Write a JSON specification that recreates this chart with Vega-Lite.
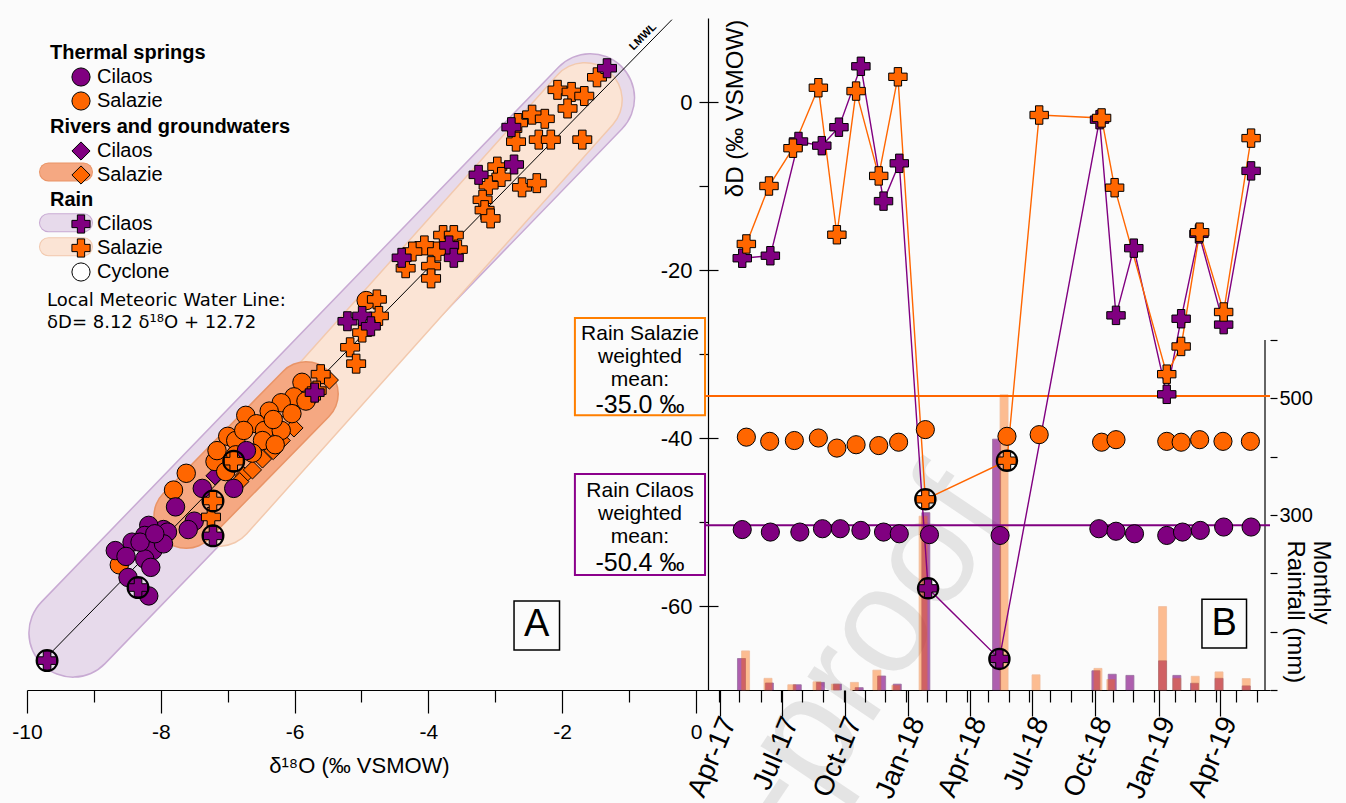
{
"$schema":"https://vega.github.io/schema/vega-lite/v6.json",
"width":1243,"height":672,
"autosize":{"type":"none"},
"padding":{"left":27,"top":18,"right":76,"bottom":113},
"background":"#fbfbfb",
"config":{
 "font":"Liberation Sans",
 "view":{"stroke":null},
 "text":{"color":"#000","font":"Liberation Sans"},
 "axis":{"labelFont":"Liberation Sans","titleFont":"Liberation Sans","labelColor":"#000","titleColor":"#000","domainColor":"#000","tickColor":"#000","domainWidth":1.2,"tickWidth":1.2,"grid":false,"titleFontWeight":"normal","labelFlush":false,"labelOverlap":false},
 "legend":{"titleFont":"Liberation Sans","titleFontSize":20,"titleFontWeight":"bold","titleColor":"#000","labelFont":"Liberation Sans","labelFontSize":20,"labelColor":"#000","symbolSize":330,"symbolOffset":21,"labelOffset":6,"rowPadding":0,"titlePadding":4,"padding":0,"symbolStrokeColor":"#000","symbolStrokeWidth":1,"titleLimit":400}
},
"datasets":{
 "thermalA":[
  {"site":"Salazie","d18O":-4.93,"dD":-23.64},{"site":"Salazie","d18O":-5.89,"dD":-33.37},{"site":"Salazie","d18O":-6.01,"dD":-35.1},{"site":"Salazie","d18O":-5.83,"dD":-35.6},{"site":"Salazie","d18O":-6.2,"dD":-35.8},{"site":"Salazie","d18O":-6.38,"dD":-36.8},{"site":"Salazie","d18O":-6.04,"dD":-37.1},{"site":"Salazie","d18O":-6.73,"dD":-37.3},{"site":"Salazie","d18O":-6.57,"dD":-38.3},{"site":"Salazie","d18O":-6.45,"dD":-39.1},{"site":"Salazie","d18O":-6.2,"dD":-39.1},{"site":"Salazie","d18O":-7.0,"dD":-39.8},{"site":"Salazie","d18O":-6.88,"dD":-40.3},{"site":"Salazie","d18O":-6.48,"dD":-40.3},{"site":"Salazie","d18O":-6.29,"dD":-40.8},{"site":"Salazie","d18O":-6.63,"dD":-41.8},{"site":"Salazie","d18O":-6.88,"dD":-42.0},{"site":"Salazie","d18O":-7.19,"dD":-42.8},{"site":"Salazie","d18O":-7.03,"dD":-44.0},{"site":"Salazie","d18O":-7.62,"dD":-44.2},{"site":"Salazie","d18O":-7.81,"dD":-46.2},{"site":"Salazie","d18O":-8.62,"dD":-55.1},{"site":"Salazie","d18O":-6.32,"dD":-37.8},{"site":"Salazie","d18O":-6.76,"dD":-39.1},{"site":"Salazie","d18O":-7.16,"dD":-41.5},
  {"site":"Cilaos","d18O":-6.72,"dD":-41.5},{"site":"Cilaos","d18O":-7.38,"dD":-46.0},{"site":"Cilaos","d18O":-6.91,"dD":-46.0},{"site":"Cilaos","d18O":-7.78,"dD":-48.2},{"site":"Cilaos","d18O":-7.5,"dD":-49.9},{"site":"Cilaos","d18O":-7.59,"dD":-50.9},{"site":"Cilaos","d18O":-7.96,"dD":-50.9},{"site":"Cilaos","d18O":-8.18,"dD":-50.4},{"site":"Cilaos","d18O":-8.24,"dD":-51.6},{"site":"Cilaos","d18O":-8.06,"dD":-51.9},{"site":"Cilaos","d18O":-7.9,"dD":-51.2},{"site":"Cilaos","d18O":-8.43,"dD":-52.4},{"site":"Cilaos","d18O":-8.68,"dD":-53.4},{"site":"Cilaos","d18O":-8.52,"dD":-54.1},{"site":"Cilaos","d18O":-8.12,"dD":-53.4},{"site":"Cilaos","d18O":-7.96,"dD":-52.6},{"site":"Cilaos","d18O":-8.24,"dD":-54.4},{"site":"Cilaos","d18O":-8.15,"dD":-55.4},{"site":"Cilaos","d18O":-8.49,"dD":-56.6},{"site":"Cilaos","d18O":-8.18,"dD":-58.8},{"site":"Cilaos","d18O":-8.31,"dD":-52.4},{"site":"Cilaos","d18O":-8.09,"dD":-51.4}
 ],
 "riversA":[
  {"site":"Salazie","d18O":-5.48,"dD":-33.1},{"site":"Salazie","d18O":-6.01,"dD":-38.8},{"site":"Salazie","d18O":-6.2,"dD":-40.3},{"site":"Salazie","d18O":-6.48,"dD":-42.5},{"site":"Salazie","d18O":-6.76,"dD":-44.5},{"site":"Salazie","d18O":-6.82,"dD":-45.2},{"site":"Salazie","d18O":-5.76,"dD":-35.3},{"site":"Salazie","d18O":-6.32,"dD":-41.5},{"site":"Salazie","d18O":-6.63,"dD":-43.8},
  {"site":"Cilaos","d18O":-7.19,"dD":-44.5}
 ],
 "rainA":[
  {"site":"Salazie","d18O":-1.48,"dD":2.94},{"site":"Salazie","d18O":-2.07,"dD":1.45},{"site":"Salazie","d18O":-1.86,"dD":1.2},{"site":"Salazie","d18O":-1.67,"dD":0.71},{"site":"Salazie","d18O":-1.92,"dD":-0.77},{"site":"Salazie","d18O":-2.45,"dD":-1.51},{"site":"Salazie","d18O":-2.26,"dD":-2.0},{"site":"Salazie","d18O":-2.66,"dD":-2.5},{"site":"Salazie","d18O":-2.69,"dD":-4.72},{"site":"Salazie","d18O":-2.35,"dD":-4.48},{"site":"Salazie","d18O":-2.17,"dD":-4.48},{"site":"Salazie","d18O":-1.7,"dD":-4.48},{"site":"Salazie","d18O":-2.97,"dD":-7.69},{"site":"Salazie","d18O":-2.91,"dD":-8.92},{"site":"Salazie","d18O":-3.1,"dD":-9.91},{"site":"Salazie","d18O":-2.6,"dD":-10.16},{"site":"Salazie","d18O":-2.38,"dD":-9.66},{"site":"Salazie","d18O":-3.19,"dD":-11.64},{"site":"Salazie","d18O":-3.16,"dD":-12.87},{"site":"Salazie","d18O":-3.07,"dD":-13.86},{"site":"Salazie","d18O":-3.78,"dD":-15.84},{"site":"Salazie","d18O":-3.62,"dD":-15.84},{"site":"Salazie","d18O":-4.06,"dD":-17.07},{"site":"Salazie","d18O":-4.24,"dD":-17.8},{"site":"Salazie","d18O":-3.87,"dD":-17.8},{"site":"Salazie","d18O":-3.56,"dD":-17.57},{"site":"Salazie","d18O":-3.96,"dD":-19.54},{"site":"Salazie","d18O":-4.34,"dD":-19.79},{"site":"Salazie","d18O":-3.96,"dD":-21.0},{"site":"Salazie","d18O":-4.77,"dD":-23.5},{"site":"Salazie","d18O":-4.74,"dD":-25.47},{"site":"Salazie","d18O":-4.99,"dD":-27.45},{"site":"Salazie","d18O":-5.17,"dD":-29.2},{"site":"Salazie","d18O":-5.08,"dD":-31.15},{"site":"Salazie","d18O":-5.61,"dD":-32.4},{"site":"Salazie","d18O":-5.67,"dD":-34.36},{"site":"Salazie","d18O":-7.25,"dD":-49.4},{"site":"Salazie","d18O":-6.91,"dD":-42.76,"cyclone":true},{"site":"Salazie","d18O":-7.22,"dD":-47.5,"cyclone":true},
  {"site":"Cilaos","d18O":-1.33,"dD":4.02},{"site":"Cilaos","d18O":-2.76,"dD":-2.99},{"site":"Cilaos","d18O":-2.72,"dD":-7.44},{"site":"Cilaos","d18O":-3.25,"dD":-8.67},{"site":"Cilaos","d18O":-3.69,"dD":-17.07},{"site":"Cilaos","d18O":-3.62,"dD":-18.55},{"site":"Cilaos","d18O":-4.4,"dD":-18.55},{"site":"Cilaos","d18O":-5.21,"dD":-26.1},{"site":"Cilaos","d18O":-4.99,"dD":-25.47},{"site":"Cilaos","d18O":-4.86,"dD":-26.7},{"site":"Cilaos","d18O":-5.7,"dD":-34.6},{"site":"Cilaos","d18O":-7.22,"dD":-51.65,"cyclone":true},{"site":"Cilaos","d18O":-8.34,"dD":-57.8,"cyclone":true},{"site":"Cilaos","d18O":-9.7,"dD":-66.5,"cyclone":true}
 ],
 "rainB":[
  {"date":"2017-05-04","site":"Cilaos","dD":-18.6,"rain":54},{"date":"2017-06-14","site":"Cilaos","dD":-18.3,"rain":12},{"date":"2017-07-25","site":"Cilaos","dD":-4.7,"rain":9},{"date":"2017-08-28","site":"Cilaos","dD":-5.2,"rain":13},{"date":"2017-09-22","site":"Cilaos","dD":-3.0,"rain":10},{"date":"2017-10-24","site":"Cilaos","dD":4.25,"rain":4},{"date":"2017-11-26","site":"Cilaos","dD":-11.8,"rain":24},{"date":"2017-12-19","site":"Cilaos","dD":-7.3,"rain":10},{"date":"2018-01-30","site":"Cilaos","dD":-57.9,"rain":304,"cyclone":true},{"date":"2018-05-14","site":"Cilaos","dD":-66.3,"rain":430,"cyclone":true},{"date":"2018-10-07","site":"Cilaos","dD":-2.1,"rain":33},{"date":"2018-10-31","site":"Cilaos","dD":-25.4,"rain":27},{"date":"2018-11-26","site":"Cilaos","dD":-17.4,"rain":25},{"date":"2019-01-13","site":"Cilaos","dD":-34.8,"rain":50},{"date":"2019-02-03","site":"Cilaos","dD":-25.8,"rain":25},{"date":"2019-03-01","site":"Cilaos","dD":-15.7,"rain":11.5},{"date":"2019-04-06","site":"Cilaos","dD":-26.5,"rain":20},{"date":"2019-05-16","site":"Cilaos","dD":-8.2,"rain":7},
  {"date":"2017-05-10","site":"Salazie","dD":-16.9,"rain":67},{"date":"2017-06-12","site":"Salazie","dD":-10.0,"rain":20},{"date":"2017-07-17","site":"Salazie","dD":-5.5,"rain":9},{"date":"2017-08-23","site":"Salazie","dD":1.7,"rain":14},{"date":"2017-09-19","site":"Salazie","dD":-15.8,"rain":10},{"date":"2017-10-17","site":"Salazie","dD":1.3,"rain":13},{"date":"2017-11-19","site":"Salazie","dD":-8.8,"rain":34},{"date":"2017-12-17","site":"Salazie","dD":3.0,"rain":8},{"date":"2018-01-26","site":"Salazie","dD":-47.3,"rain":298,"cyclone":true},{"date":"2018-05-25","site":"Salazie","dD":-42.7,"rain":506,"cyclone":true},{"date":"2018-07-11","site":"Salazie","dD":-1.55,"rain":26},{"date":"2018-10-10","site":"Salazie","dD":-1.9,"rain":37},{"date":"2018-10-29","site":"Salazie","dD":-10.2,"rain":18},{"date":"2019-01-13","site":"Salazie","dD":-32.4,"rain":143},{"date":"2019-02-03","site":"Salazie","dD":-29.1,"rain":20},{"date":"2019-03-02","site":"Salazie","dD":-15.5,"rain":23.5},{"date":"2019-04-06","site":"Salazie","dD":-25.0,"rain":31},{"date":"2019-05-16","site":"Salazie","dD":-4.3,"rain":19.5}
 ],
 "thermalB":[
  {"date":"2017-05-10","site":"Salazie","dD":-39.9},{"date":"2017-06-13","site":"Salazie","dD":-40.4},{"date":"2017-07-19","site":"Salazie","dD":-40.3},{"date":"2017-08-23","site":"Salazie","dD":-40.0},{"date":"2017-09-19","site":"Salazie","dD":-41.2},{"date":"2017-10-17","site":"Salazie","dD":-40.8},{"date":"2017-11-19","site":"Salazie","dD":-40.9},{"date":"2017-12-18","site":"Salazie","dD":-40.5},{"date":"2018-01-26","site":"Salazie","dD":-39.0},{"date":"2018-05-25","site":"Salazie","dD":-39.8},{"date":"2018-07-11","site":"Salazie","dD":-39.6},{"date":"2018-10-10","site":"Salazie","dD":-40.5},{"date":"2018-10-31","site":"Salazie","dD":-40.2},{"date":"2019-01-13","site":"Salazie","dD":-40.4},{"date":"2019-02-03","site":"Salazie","dD":-40.5},{"date":"2019-03-02","site":"Salazie","dD":-40.2},{"date":"2019-04-05","site":"Salazie","dD":-40.4},{"date":"2019-05-15","site":"Salazie","dD":-40.4},
  {"date":"2017-05-04","site":"Cilaos","dD":-50.9},{"date":"2017-06-14","site":"Cilaos","dD":-51.2},{"date":"2017-07-27","site":"Cilaos","dD":-51.2},{"date":"2017-08-29","site":"Cilaos","dD":-50.8},{"date":"2017-09-24","site":"Cilaos","dD":-50.8},{"date":"2017-10-24","site":"Cilaos","dD":-51.0},{"date":"2017-11-26","site":"Cilaos","dD":-51.2},{"date":"2017-12-19","site":"Cilaos","dD":-51.4},{"date":"2018-02-01","site":"Cilaos","dD":-51.5},{"date":"2018-05-15","site":"Cilaos","dD":-51.6},{"date":"2018-10-06","site":"Cilaos","dD":-50.8},{"date":"2018-10-31","site":"Cilaos","dD":-51.1},{"date":"2018-11-27","site":"Cilaos","dD":-51.4},{"date":"2019-01-13","site":"Cilaos","dD":-51.6},{"date":"2019-02-05","site":"Cilaos","dD":-51.2},{"date":"2019-03-03","site":"Cilaos","dD":-51.0},{"date":"2019-04-06","site":"Cilaos","dD":-50.6},{"date":"2019-05-16","site":"Cilaos","dD":-50.6}
 ],
 "meanB":[{"site":"Salazie","mean":-35.0},{"site":"Cilaos","mean":-50.4}]
},
"layer":[
 {
  "layer":[
   {
    "layer":[
     {"data":{"values":[{}]},"mark":{"type":"rule","strokeWidth":90,"strokeCap":"round","color":"#c8aad3"},
      "encoding":{"x":{"datum":-9.31,"type":"quantitative","scale":{"domain":[-10,8.58],"nice":false,"zero":false},"axis":{"orient":"bottom","values":[-9,-7,-5,-3,-1],"tickSize":12,"labels":false,"domain":false,"title":null}},
       "y":{"datum":-63.2,"type":"quantitative","scale":{"domain":[-70,10],"nice":false,"zero":false},"axis":null},"x2":{"datum":-1.58},"y2":{"datum":0.48}}},
     {"data":{"values":[{}]},"mark":{"type":"rule","strokeWidth":87,"strokeCap":"round","color":"#e7daeb"},
      "encoding":{"x":{"datum":-9.31,"type":"quantitative"},"y":{"datum":-63.2,"type":"quantitative","axis":null},"x2":{"datum":-1.58},"y2":{"datum":0.48}}},
     {"data":{"values":[{}]},"mark":{"type":"rule","strokeWidth":76,"strokeCap":"round","color":"#f2c9ae"},
      "encoding":{"x":{"datum":-7.13,"type":"quantitative"},"y":{"datum":-48.45,"type":"quantitative","axis":null},"x2":{"datum":-1.66},"y2":{"datum":0.24}}},
     {"data":{"values":[{}]},"mark":{"type":"rule","strokeWidth":73,"strokeCap":"round","color":"#fbe4d5"},
      "encoding":{"x":{"datum":-7.13,"type":"quantitative"},"y":{"datum":-48.45,"type":"quantitative","axis":null},"x2":{"datum":-1.66},"y2":{"datum":0.24}}},
     {"data":{"values":[{}]},"mark":{"type":"rule","strokeWidth":66,"strokeCap":"round","color":"#e99467"},
      "encoding":{"x":{"datum":-7.62,"type":"quantitative"},"y":{"datum":-49.3,"type":"quantitative","axis":null},"x2":{"datum":-5.83},"y2":{"datum":-34.76}}},
     {"data":{"values":[{}]},"mark":{"type":"rule","strokeWidth":63,"strokeCap":"round","color":"#f5a882"},
      "encoding":{"x":{"datum":-7.62,"type":"quantitative"},"y":{"datum":-49.3,"type":"quantitative","axis":null},"x2":{"datum":-5.83},"y2":{"datum":-34.76}}},
     {"data":{"values":[{}]},"mark":{"type":"rule","strokeWidth":19,"strokeCap":"round","color":"#e99467"},
      "encoding":{"x":{"datum":-9.679,"type":"quantitative"},"y":{"datum":-8.33,"type":"quantitative","axis":null},"x2":{"datum":-9.155},"y2":{"datum":-8.33}}},
     {"data":{"values":[{}]},"mark":{"type":"rule","strokeWidth":17,"strokeCap":"round","color":"#f5a882"},
      "encoding":{"x":{"datum":-9.679,"type":"quantitative"},"y":{"datum":-8.33,"type":"quantitative","axis":null},"x2":{"datum":-9.155},"y2":{"datum":-8.33}}},
     {"data":{"values":[{}]},"mark":{"type":"rule","strokeWidth":19,"strokeCap":"round","color":"#c8aad3"},
      "encoding":{"x":{"datum":-9.679,"type":"quantitative"},"y":{"datum":-14.37,"type":"quantitative","axis":null},"x2":{"datum":-9.155},"y2":{"datum":-14.37}}},
     {"data":{"values":[{}]},"mark":{"type":"rule","strokeWidth":17,"strokeCap":"round","color":"#e7daeb"},
      "encoding":{"x":{"datum":-9.679,"type":"quantitative"},"y":{"datum":-14.37,"type":"quantitative","axis":null},"x2":{"datum":-9.155},"y2":{"datum":-14.37}}},
     {"data":{"values":[{}]},"mark":{"type":"rule","strokeWidth":19,"strokeCap":"round","color":"#f2c9ae"},
      "encoding":{"x":{"datum":-9.679,"type":"quantitative"},"y":{"datum":-17.23,"type":"quantitative","axis":null},"x2":{"datum":-9.155},"y2":{"datum":-17.23}}},
     {"data":{"values":[{}]},"mark":{"type":"rule","strokeWidth":17,"strokeCap":"round","color":"#fbe4d5"},
      "encoding":{"x":{"datum":-9.679,"type":"quantitative"},"y":{"datum":-17.23,"type":"quantitative","axis":null},"x2":{"datum":-9.155},"y2":{"datum":-17.23}}}
    ]
   },
   {
    "layer":[
     {"data":{"values":[{}]},"mark":{"type":"text","text":"Journal Pre-proof","fontSize":150,"angle":304,"align":"right","baseline":"alphabetic","color":"#e4e4e4"},
      "encoding":{"x":{"datum":4.724,"type":"quantitative","scale":{"domain":[-10,8.58],"nice":false,"zero":false}},"y":{"datum":-49.17,"type":"quantitative","scale":{"domain":[-70,10],"nice":false,"zero":false},"axis":null}}},
     {"data":{"values":[{}]},"mark":{"type":"rule","strokeWidth":1,"color":"#000"},
      "encoding":{"x":{"datum":-9.7,"type":"quantitative","scale":{"domain":[-10,8.58],"nice":false,"zero":false},"axis":{"orient":"bottom","values":[-10,-8,-6,-4,-2,0],"tickSize":23,"labelFontSize":21,"labelPadding":8,"labelExpr":"'' + datum.value","domain":true,"title":"δ¹⁸O (‰ VSMOW)","titleFontSize":22,"titleX":332,"titleY":75,"titleAlign":"center","titleBaseline":"middle"}},
       "y":{"datum":-66.04,"type":"quantitative","scale":{"domain":[-70,10],"nice":false,"zero":false},"axis":null},"x2":{"datum":-0.36},"y2":{"datum":9.8}}},
     {"data":{"name":"riversA"},"mark":{"type":"point","shape":"diamond","filled":true,"size":330,"stroke":"#000","strokeWidth":1,"opacity":1},
      "encoding":{"x":{"field":"d18O","type":"quantitative"},"y":{"field":"dD","type":"quantitative","axis":null},
       "color":{"field":"site","type":"nominal","scale":{"domain":["Cilaos","Salazie"],"range":["#800080","#ff6600"]},"legend":{"title":"Rivers and groundwaters","orient":"none","legendX":23,"legendY":99,"symbolType":"diamond"}}}},
     {"data":{"name":"thermalA"},"mark":{"type":"point","shape":"circle","filled":true,"size":340,"stroke":"#000","strokeWidth":1,"opacity":1},
      "encoding":{"x":{"field":"d18O","type":"quantitative"},"y":{"field":"dD","type":"quantitative","axis":null},
       "color":{"field":"site","type":"nominal","scale":{"domain":["Cilaos","Salazie"],"range":["#800080","#ff6600"]},"legend":{"title":"Thermal springs","orient":"none","legendX":23,"legendY":25,"symbolType":"circle"}}}},
     {"data":{"name":"rainA"},"mark":{"type":"point","filled":true,"size":360,"stroke":"#000","strokeWidth":1,"opacity":1},
      "encoding":{"x":{"field":"d18O","type":"quantitative"},"y":{"field":"dD","type":"quantitative","axis":null},
       "color":{"field":"site","type":"nominal","scale":{"domain":["Cilaos","Salazie","Cyclone"],"range":["#800080","#ff6600","#ffffff"]},"legend":{"title":"Rain","orient":"none","legendX":23,"legendY":172}},
       "shape":{"field":"site","type":"nominal","scale":{"domain":["Cilaos","Salazie","Cyclone"],"range":["cross","cross","circle"]},"legend":{"title":"Rain","orient":"none","legendX":23,"legendY":172}}}},
     {"data":{"name":"rainA"},"transform":[{"filter":"datum.cyclone"}],"mark":{"type":"point","shape":"circle","filled":false,"size":440,"color":"#000","strokeWidth":2,"opacity":1},
      "encoding":{"x":{"field":"d18O","type":"quantitative"},"y":{"field":"dD","type":"quantitative","axis":null}}},
     {"data":{"values":[{}]},"mark":{"type":"text","text":"LMWL","fontSize":11,"fontWeight":"bold","angle":315,"align":"center","baseline":"middle"},
      "encoding":{"x":{"datum":-0.79,"type":"quantitative"},"y":{"datum":7.74,"type":"quantitative","axis":null}}},
     {"data":{"values":[{}]},"mark":{"type":"text","text":["Local Meteoric Water Line:","δD= 8.12 δ¹⁸O + 12.72"],"font":"DejaVu Sans","fontSize":18,"align":"left","baseline":"top","lineHeight":22},
      "encoding":{"x":{"datum":-9.7,"type":"quantitative"},"y":{"datum":-22.6,"type":"quantitative","axis":null}}},
     {"data":{"values":[{}]},"mark":{"type":"rect","fillOpacity":0,"stroke":"#ff7f00","strokeWidth":2},
      "encoding":{"x":{"datum":-1.81,"type":"quantitative"},"x2":{"datum":0.135},"y":{"datum":-25.7,"type":"quantitative","axis":null},"y2":{"datum":-37.3}}},
     {"data":{"values":[{}]},"mark":{"type":"rect","fillOpacity":0,"stroke":"#8b008b","strokeWidth":2},
      "encoding":{"x":{"datum":-1.81,"type":"quantitative"},"x2":{"datum":0.135},"y":{"datum":-44.3,"type":"quantitative","axis":null},"y2":{"datum":-56.3}}},
     {"data":{"values":[{}]},"mark":{"type":"text","text":["Rain Salazie","weighted","mean:"],"fontSize":21,"align":"center","baseline":"top","lineHeight":23},
      "encoding":{"x":{"datum":-0.837,"type":"quantitative"},"y":{"datum":-26.3,"type":"quantitative","axis":null}}},
     {"data":{"values":[{}]},"mark":{"type":"text","text":"-35.0 ‰","fontSize":25,"align":"center","baseline":"top"},
      "encoding":{"x":{"datum":-0.837,"type":"quantitative"},"y":{"datum":-34.6,"type":"quantitative","axis":null}}},
     {"data":{"values":[{}]},"mark":{"type":"text","text":["Rain Cilaos","weighted","mean:"],"fontSize":21,"align":"center","baseline":"top","lineHeight":23},
      "encoding":{"x":{"datum":-0.837,"type":"quantitative"},"y":{"datum":-45.0,"type":"quantitative","axis":null}}},
     {"data":{"values":[{}]},"mark":{"type":"text","text":"-50.4 ‰","fontSize":25,"align":"center","baseline":"top"},
      "encoding":{"x":{"datum":-0.837,"type":"quantitative"},"y":{"datum":-53.4,"type":"quantitative","axis":null}}},
     {"data":{"values":[{}]},"mark":{"type":"rect","fillOpacity":0,"stroke":"#000","strokeWidth":1.5},
      "encoding":{"x":{"datum":-2.72,"type":"quantitative"},"x2":{"datum":-2.04},"y":{"datum":-59.4,"type":"quantitative","axis":null},"y2":{"datum":-65.24}}},
     {"data":{"values":[{}]},"mark":{"type":"text","text":"A","fontSize":38,"align":"center","baseline":"middle"},
      "encoding":{"x":{"datum":-2.38,"type":"quantitative"},"y":{"datum":-62.3,"type":"quantitative","axis":null}}},
     {"data":{"values":[{}]},"mark":{"type":"rect","fillOpacity":0,"stroke":"#000","strokeWidth":1.5},
      "encoding":{"x":{"datum":7.563,"type":"quantitative"},"x2":{"datum":8.229},"y":{"datum":-59.2,"type":"quantitative","axis":null},"y2":{"datum":-65.0}}},
     {"data":{"values":[{}]},"mark":{"type":"text","text":"B","fontSize":38,"align":"center","baseline":"middle"},
      "encoding":{"x":{"datum":7.896,"type":"quantitative"},"y":{"datum":-62.1,"type":"quantitative","axis":null}}}
    ],
    "resolve":{"scale":{"color":"independent","shape":"independent"}}
   }
  ],
  "resolve":{"scale":{"x":"independent"}}
 },
 {
  "layer":[
   {
    "layer":[
     {"data":{"name":"rainB"},"transform":[{"filter":"datum.site == 'Cilaos'"}],"mark":{"type":"bar","width":8,"color":"#800080","opacity":0.62,"stroke":"#5a1a66","strokeWidth":0.8},
      "encoding":{"x":{"field":"date","type":"temporal","scale":{"type":"utc","domain":[{"year":2014,"month":6,"date":26,"utc":true},{"year":2019,"month":6,"date":12,"hours":14,"utc":true}],"nice":false},
        "axis":{"orient":"bottom","zindex":1,"values":[{"year":2017,"month":4,"date":1,"utc":true},{"year":2017,"month":5,"date":1,"utc":true},{"year":2017,"month":6,"date":1,"utc":true},{"year":2017,"month":7,"date":1,"utc":true},{"year":2017,"month":8,"date":1,"utc":true},{"year":2017,"month":9,"date":1,"utc":true},{"year":2017,"month":10,"date":1,"utc":true},{"year":2017,"month":11,"date":1,"utc":true},{"year":2017,"month":12,"date":1,"utc":true},{"year":2018,"month":1,"date":1,"utc":true},{"year":2018,"month":2,"date":1,"utc":true},{"year":2018,"month":3,"date":1,"utc":true},{"year":2018,"month":4,"date":1,"utc":true},{"year":2018,"month":5,"date":1,"utc":true},{"year":2018,"month":6,"date":1,"utc":true},{"year":2018,"month":7,"date":1,"utc":true},{"year":2018,"month":8,"date":1,"utc":true},{"year":2018,"month":9,"date":1,"utc":true},{"year":2018,"month":10,"date":1,"utc":true},{"year":2018,"month":11,"date":1,"utc":true},{"year":2018,"month":12,"date":1,"utc":true},{"year":2019,"month":1,"date":1,"utc":true},{"year":2019,"month":2,"date":1,"utc":true},{"year":2019,"month":3,"date":1,"utc":true},{"year":2019,"month":4,"date":1,"utc":true},{"year":2019,"month":5,"date":1,"utc":true},{"year":2019,"month":6,"date":1,"utc":true}],"tickSize":12,"labels":false,"domain":false,"title":null}},
       "y":{"field":"rain","type":"quantitative","scale":{"domain":[0,1152],"nice":false,"zero":true},
        "axis":{"orient":"right","values":[0,100,200,300,400,500,600],"tickSize":7,"labelExpr":"datum.value == 300 || datum.value == 500 ? '' + datum.value : ''","labelFontSize":20,"labelPadding":2,"domain":false,"title":["Monthly","Rainfall (mm)"],"titleFontSize":24,"titleAngle":90,"titleX":62,"titleY":522,"titleAlign":"left","titleBaseline":"top","titleLineHeight":26}}}},
     {"data":{"name":"rainB"},"transform":[{"filter":"datum.site == 'Salazie'"}],"mark":{"type":"bar","width":8,"color":"#ff6600","opacity":0.42,"stroke":"#e06a20","strokeWidth":0.8},
      "encoding":{"x":{"field":"date","type":"temporal"},"y":{"field":"rain","type":"quantitative"}}},
     {"data":{"values":[{}]},"mark":{"type":"rule","color":"#000","strokeWidth":1.2},
      "encoding":{"x":{"datum":{"year":2019,"month":6,"date":12,"hours":14,"utc":true},"type":"temporal"},"y":{"datum":0,"type":"quantitative"},"y2":{"datum":600}}}
    ]
   },
   {"data":{"name":"meanB"},"mark":{"type":"rule","strokeWidth":2},
    "encoding":{"y":{"field":"mean","type":"quantitative","scale":{"domain":[-70,10],"nice":false,"zero":false},"axis":{"orient":"left","offset":-681,"values":[-60,-40,-20,0],"tickSize":-10,"labels":false,"domain":false,"title":null}},
     "x":{"datum":{"year":2017,"month":3,"date":11,"utc":true},"type":"temporal","scale":{"type":"utc","domain":[{"year":2014,"month":6,"date":26,"utc":true},{"year":2019,"month":6,"date":12,"hours":14,"utc":true}],"nice":false},"axis":null},
     "x2":{"datum":{"year":2019,"month":6,"date":12,"hours":14,"utc":true}},
     "color":{"field":"site","type":"nominal","scale":{"domain":["Cilaos","Salazie"],"range":["#800080","#ff6600"]},"legend":null}}},
   {
    "layer":[
     {"data":{"name":"rainB"},"mark":{"type":"line","strokeWidth":1.4},
      "encoding":{"x":{"field":"date","type":"temporal","scale":{"type":"utc","domain":[{"year":2014,"month":6,"date":26,"utc":true},{"year":2019,"month":6,"date":12,"hours":14,"utc":true}],"nice":false},
        "axis":{"orient":"bottom","zindex":1,"values":[{"year":2017,"month":4,"date":1,"utc":true},{"year":2017,"month":7,"date":1,"utc":true},{"year":2017,"month":10,"date":1,"utc":true},{"year":2018,"month":1,"date":1,"utc":true},{"year":2018,"month":4,"date":1,"utc":true},{"year":2018,"month":7,"date":1,"utc":true},{"year":2018,"month":10,"date":1,"utc":true},{"year":2019,"month":1,"date":1,"utc":true},{"year":2019,"month":4,"date":1,"utc":true}],"tickSize":26,"labelExpr":"utcFormat(datum.value, '%b-%y')","labelAngle":-67,"labelAlign":"right","labelBaseline":"middle","labelFontSize":28,"labelPadding":2,"labelOffset":9,"domain":false,"title":null}},
       "y":{"field":"dD","type":"quantitative","scale":{"domain":[-70,10],"nice":false,"zero":false},
        "axis":{"orient":"left","offset":-681,"values":[-60,-50,-40,-30,-20,-10,0],"tickSize":9,"labelExpr":"datum.value % 20 == 0 ? '' + datum.value : ''","labelFontSize":22,"labelPadding":7,"domain":true,"title":"δD (‰ VSMOW)","titleFontSize":24,"titleAngle":270,"titleX":27,"titleY":90,"titleAlign":"center","titleBaseline":"middle"}},
       "color":{"field":"site","type":"nominal","scale":{"domain":["Cilaos","Salazie"],"range":["#800080","#ff6600"]},"legend":null}}},
     {"data":{"name":"thermalB"},"mark":{"type":"point","shape":"circle","filled":true,"size":330,"stroke":"#000","strokeWidth":1,"opacity":1},
      "encoding":{"x":{"field":"date","type":"temporal"},"y":{"field":"dD","type":"quantitative"},"color":{"field":"site","type":"nominal","legend":null}}},
     {"data":{"name":"rainB"},"mark":{"type":"point","shape":"cross","filled":true,"size":340,"stroke":"#000","strokeWidth":1,"opacity":1},
      "encoding":{"x":{"field":"date","type":"temporal"},"y":{"field":"dD","type":"quantitative"},"color":{"field":"site","type":"nominal","legend":null}}},
     {"data":{"name":"rainB"},"transform":[{"filter":"datum.cyclone"}],"mark":{"type":"point","shape":"circle","filled":false,"size":420,"color":"#000","strokeWidth":2,"opacity":1},
      "encoding":{"x":{"field":"date","type":"temporal"},"y":{"field":"dD","type":"quantitative"}}}
    ]
   }
  ],
  "resolve":{"scale":{"x":"independent","y":"independent"}}
 }
],
"resolve":{"scale":{"x":"independent","y":"independent"}}
}
